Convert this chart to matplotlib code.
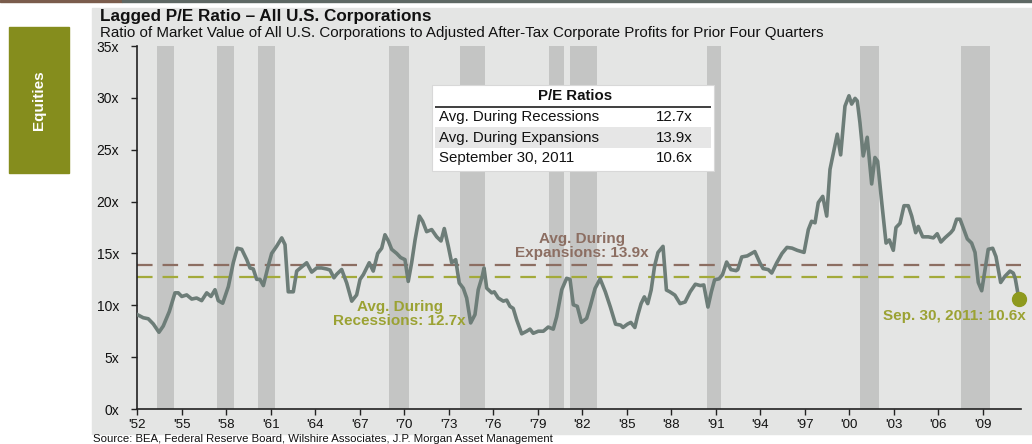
import matplotlib
matplotlib.use("Agg")
import matplotlib.pyplot as plt
from matplotlib.patches import Rectangle

plt.rcParams['font.family'] = ['Liberation Sans', 'DejaVu Sans']

# quarterly-ish readings of the lagged P/E (decimal year, multiple)
dates = [1952.0, 1952.4, 1952.74, 1953.08, 1953.46, 1953.75, 1954.16, 1954.54, 1954.76, 1955.0,
         1955.33, 1955.67, 1956.0, 1956.34, 1956.68, 1956.97, 1957.24, 1957.46, 1957.76, 1958.14,
         1958.47, 1958.74, 1959.04, 1959.38, 1959.6, 1959.82, 1960.05, 1960.27, 1960.5, 1960.83,
         1961.06, 1961.4, 1961.74, 1961.96, 1962.18, 1962.52, 1962.75, 1963.09, 1963.42, 1963.76,
         1964.1, 1964.43, 1964.77, 1964.99, 1965.26, 1965.45, 1965.78, 1966.12, 1966.46, 1966.79,
         1967.02, 1967.24, 1967.64, 1967.91, 1968.21, 1968.48, 1968.7, 1968.93, 1969.15, 1969.49,
         1969.76, 1970.05, 1970.27, 1970.5, 1970.73, 1971.02, 1971.24, 1971.51, 1971.85, 1972.19,
         1972.48, 1972.7, 1972.97, 1973.2, 1973.47, 1973.71, 1973.98, 1974.21, 1974.48, 1974.77,
         1974.99, 1975.26, 1975.38, 1975.56, 1975.9, 1976.07, 1976.34, 1976.68, 1976.91, 1977.13,
         1977.35, 1977.58, 1977.92, 1978.26, 1978.48, 1978.7, 1979.04, 1979.38, 1979.71, 1980.05,
         1980.28, 1980.62, 1980.95, 1981.18, 1981.4, 1981.67, 1981.95, 1982.3, 1982.53, 1982.87,
         1983.21, 1983.56, 1983.9, 1984.25, 1984.59, 1984.75, 1985.05, 1985.28, 1985.55, 1985.74,
         1985.97, 1986.19, 1986.42, 1986.65, 1986.88, 1987.11, 1987.45, 1987.68, 1987.91, 1988.25,
         1988.6, 1988.94, 1989.28, 1989.63, 1989.97, 1990.2, 1990.48, 1990.71, 1990.93, 1991.23,
         1991.46, 1991.74, 1992.03, 1992.38, 1992.49, 1992.76, 1993.13, 1993.64, 1993.98, 1994.2,
         1994.55, 1994.78, 1995.12, 1995.47, 1995.81, 1996.15, 1996.5, 1996.96, 1997.25, 1997.47,
         1997.7, 1997.92, 1998.22, 1998.49, 1998.71, 1998.98, 1999.2, 1999.43, 1999.72, 1999.99,
         2000.17, 2000.4, 2000.55, 2000.73, 2000.95, 2001.22, 2001.52, 2001.74, 2001.92, 2002.2,
         2002.49, 2002.71, 2002.98, 2003.16, 2003.43, 2003.7, 2003.99, 2004.22, 2004.49, 2004.66,
         2004.96, 2005.34, 2005.68, 2005.94, 2006.19, 2006.46, 2006.85, 2007.02, 2007.25, 2007.48,
         2007.74, 2007.97, 2008.26, 2008.49, 2008.71, 2008.94, 2009.16, 2009.38, 2009.68, 2009.9,
         2010.22, 2010.51, 2010.85, 2011.07, 2011.2, 2011.45]
pe = [9.1, 8.8, 8.7, 8.2, 7.4, 8.0, 9.4, 11.2, 11.2, 10.85,
      11.0, 10.6, 10.7, 10.45, 11.2, 10.85, 11.5, 10.45, 10.2, 11.8,
      14.1, 15.5, 15.4, 14.4, 13.6, 13.5, 12.5, 12.5, 11.9, 13.8,
      15.0, 15.7, 16.5, 15.85, 11.3, 11.3, 13.3, 13.7, 14.1, 13.2,
      13.6, 13.6, 13.5, 13.4, 12.65, 13.0, 13.45, 12.15, 10.4, 11.0,
      12.5, 12.95, 14.1, 13.3, 15.0, 15.5, 16.8, 16.2, 15.4, 15.0,
      14.6, 14.4, 12.3, 14.1, 16.3, 18.6, 18.1, 17.1, 17.3, 16.6,
      16.2, 17.4, 15.7, 14.1, 14.4, 12.15, 11.65, 10.7, 8.3, 9.1,
      11.5, 12.8, 13.6, 11.65, 11.2, 11.3, 10.7, 10.4, 10.5, 9.9,
      9.7, 8.6, 7.25, 7.5, 7.7, 7.3, 7.5, 7.5, 7.9, 7.7,
      8.9, 11.5, 12.6, 12.5, 10.05, 9.9, 8.35, 8.74, 9.83, 11.63,
      12.55, 11.3, 9.83, 8.18, 8.09, 7.86, 8.18, 8.35, 7.86, 9.0,
      10.16, 10.81, 10.16, 11.47, 13.77, 15.09, 15.68, 11.47, 11.3, 10.98,
      10.16, 10.32, 11.3, 12.03, 11.9, 11.96, 9.83, 11.3, 12.46, 12.55,
      12.95, 14.17, 13.44, 13.34, 13.44, 14.66, 14.76, 15.18, 14.1, 13.54,
      13.44, 13.11, 14.1, 14.99, 15.58, 15.51, 15.3, 15.1, 17.3, 18.1,
      17.95, 19.9, 20.5, 18.6, 23.1, 25.0, 26.5, 24.5, 29.2, 30.2,
      29.4, 29.95, 29.7, 27.6, 24.4, 26.2, 21.7, 24.25, 23.9, 19.9,
      16.0, 16.3, 15.3, 17.5, 17.9, 19.6, 19.6, 18.6, 17.0, 17.6,
      16.6, 16.6, 16.5, 16.9, 16.1, 16.5, 17.0, 17.3, 18.3, 18.3,
      17.3, 16.4, 16.0, 15.1, 12.2, 11.4, 13.4, 15.4, 15.5, 14.7,
      12.2, 12.8, 13.3, 13.1, 12.6, 10.6]

# recession shading (start, end) as placed on the chart
recessions = [(1953.3, 1954.5), (1957.4, 1958.5), (1960.15, 1961.3), (1969.0, 1970.35),
              (1973.77, 1975.45), (1979.73, 1980.77), (1981.2, 1983.0), (1990.4, 1991.35),
              (2000.73, 2002.0), (2007.52, 2009.5)]

avg_recession = 12.7
avg_expansion = 13.9
latest = 10.6
latest_date = 2011.45

tick_years = list(range(1952, 2010, 3))
tick_labels = ["'%02d" % (y % 100) for y in tick_years]
y_ticks = [0, 5, 10, 15, 20, 25, 30, 35]
y_labels = ['%dx' % v for v in y_ticks]

table_rows = [('Avg. During Recessions', '12.7x'),
              ('Avg. During Expansions', '13.9x'),
              ('September 30, 2011', '10.6x')]

W, H = 1032, 444
fig = plt.figure(figsize=(W / 100, H / 100), dpi=100)
fig.patch.set_facecolor('white')

def fx(px):
    return px / W

def fy(py):
    return 1 - py / H

bg = '#E4E5E4'
# panel and decorations
fig.add_artist(Rectangle((fx(92), fy(434)), fx(1032 - 92), (434 - 8) / H,
                         transform=fig.transFigure, color=bg, zorder=0))
fig.add_artist(Rectangle((0, fy(2)), fx(122), 2 / H, transform=fig.transFigure,
                         color='#7A5C4C', zorder=1))
fig.add_artist(Rectangle((fx(122), fy(2)), 1 - fx(122), 2 / H, transform=fig.transFigure,
                         color='#5E6864', zorder=1))
fig.add_artist(Rectangle((fx(9), fy(173)), fx(60), (173 - 27) / H,
                         transform=fig.transFigure, color='#858D1D', zorder=1))
fig.text(fx(39), fy(100), 'Equities', rotation=90, color='white', fontsize=11,
         fontweight='bold', ha='center', va='center')

fig.text(fx(100), fy(17), 'Lagged P/E Ratio \u2013 All U.S. Corporations', fontsize=12.3,
         fontweight='bold', ha='left', va='center', color='#111111')
fig.text(fx(100), fy(32.5), 'Ratio of Market Value of All U.S. Corporations to Adjusted '
         'After-Tax Corporate Profits for Prior Four Quarters', fontsize=10.9,
         ha='left', va='center', color='#111111')
fig.text(fx(93), fy(443.5), 'Source: BEA, Federal Reserve Board, Wilshire Associates, '
         'J.P. Morgan Asset Management', fontsize=8.2, ha='left', va='bottom',
         color='#111111')

ax = fig.add_axes([fx(137.3), fy(409), fx(1021 - 137.3), (409 - 46) / H])
ax.set_facecolor('none')
for a, b in recessions:
    ax.axvspan(a, b, ymin=0, ymax=1, color='#C4C5C4', lw=0, zorder=1)

ax.axhline(avg_expansion, color='#8C6E62', lw=1.6, dashes=(7, 4.5), zorder=2)
ax.axhline(avg_recession, color='#A3AA3A', lw=1.6, dashes=(7, 4.5), zorder=2)
ax.plot(dates, pe, color='#6D7D78', lw=2.6, solid_joinstyle='round', zorder=3)
ax.plot([latest_date], [latest], 'o', color='#8E9A1E', ms=10, zorder=4, clip_on=False)

ax.text(1982.0, 14.4, 'Avg. During\nExpansions: 13.9x', color='#8C6E62', fontsize=11,
        fontweight='bold', ha='center', va='bottom', linespacing=1.0, zorder=5)
ax.text(1969.7, 7.8, 'Avg. During\nRecessions: 12.7x', color='#9BA233', fontsize=11,
        fontweight='bold', ha='center', va='bottom', linespacing=1.0, zorder=5)
ax.text(2011.9, 9.0, 'Sep. 30, 2011: 10.6x', color='#9BA233', fontsize=11,
        fontweight='bold', ha='right', va='center', zorder=5)

ax.set_xlim(1952.0, 2011.59)
ax.set_ylim(0, 35)
ax.set_xticks(tick_years)
ax.set_xticklabels(tick_labels)
ax.set_yticks(y_ticks)
ax.set_yticklabels(y_labels)
ax.tick_params(axis='both', labelsize=10, length=4, width=1, color='#222222',
               labelcolor='#111111')
ax.tick_params(axis='y', pad=9)
ax.tick_params(axis='x', pad=3, labelsize=9.6)
for s in ['top', 'right']:
    ax.spines[s].set_visible(False)
for s in ['left', 'bottom']:
    ax.spines[s].set_color('#222222')
    ax.spines[s].set_linewidth(1.2)

# P/E table
tx0, tx1, ty0, ty1 = 432, 714, 85, 171
fig.add_artist(Rectangle((fx(tx0), fy(ty1)), fx(tx1 - tx0), (ty1 - ty0) / H,
                         transform=fig.transFigure, facecolor='white',
                         edgecolor='#D8D8D8', lw=0.8, zorder=6))
fig.add_artist(Rectangle((fx(435), fy(148)), fx(711 - 435), 20.5 / H,
                         transform=fig.transFigure, facecolor='#E6E6E6', lw=0, zorder=7))
fig.add_artist(Rectangle((fx(435), fy(108)), fx(711 - 435), 1.6 / H,
                         transform=fig.transFigure, facecolor='#444444', lw=0, zorder=7))
fig.text(fx(575), fy(96), 'P/E Ratios', fontsize=10.8, fontweight='bold', ha='center',
         va='center', color='#111111', zorder=8)
row_y = [117, 138, 158]
for (lab, val), ry in zip(table_rows, row_y):
    fig.text(fx(439), fy(ry), lab, fontsize=10.8, ha='left', va='center', color='#111111',
             zorder=8)
    fig.text(fx(693), fy(ry), val, fontsize=10.8, ha='right', va='center', color='#111111',
             zorder=8)

fig.savefig('out.png', dpi=100, facecolor=fig.get_facecolor())
